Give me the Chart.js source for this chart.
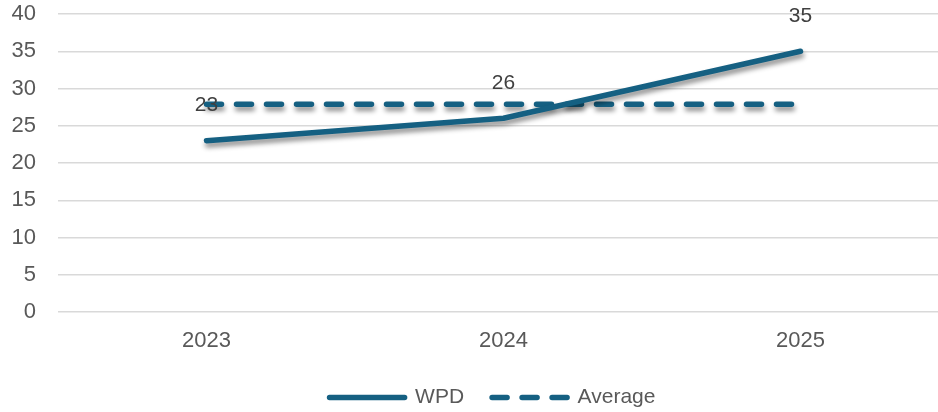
<!DOCTYPE html>
<html><head><meta charset="utf-8">
<script src="https://cdn.jsdelivr.net/npm/chart.js@4.4.1/dist/chart.umd.min.js"></script>
<style>
html,body{margin:0;padding:0;background:#fff;overflow:hidden;}
#wrap{width:980px;height:412px;position:relative;}
</style></head>
<body>
<div id="wrap"><canvas id="c"></canvas></div>
<script>
const categories = ['2023', '2024', '2025'];
const wpdValues = [23, 26, 35];
const averageValues = [27.9, 27.9, 27.9];
const yTicks = [0, 5, 10, 15, 20, 25, 30, 35, 40];

const FONT = "'Liberation Sans', Arial, sans-serif";
const LINE = '#156082';

const shadowPlugin = {
  id: 'shadow',
  beforeDatasetDraw(chart) {
    const ctx = chart.ctx;
    ctx.save();
    ctx.shadowColor = 'rgba(0,0,0,0.45)';
    ctx.shadowBlur = 5;
    ctx.shadowOffsetX = 1;
    ctx.shadowOffsetY = 4;
  },
  afterDatasetDraw(chart) { chart.ctx.restore(); }
};

const legendShift = {
  id: 'legendShift',
  afterLayout(chart) {
    const l = chart.legend;
    l.left += 18; l.right += 18;
    l.top += 6; l.bottom += 6;
  }
};

const labelPlugin = {
  id: 'dlabels',
  afterDatasetsDraw(chart) {
    const ctx = chart.ctx;
    const meta = chart.getDatasetMeta(0);
    ctx.save();
    ctx.font = '21px ' + FONT;
    ctx.fillStyle = '#404040';
    ctx.textAlign = 'center';
    ctx.textBaseline = 'middle';
    meta.data.forEach((pt, i) => {
      ctx.fillText(String(wpdValues[i]), pt.x, pt.y - 35);
    });
    ctx.restore();
  }
};

new Chart(document.getElementById('c'), {
  type: 'line',
  data: {
    labels: categories,
    datasets: [
      {
        label: 'WPD', data: wpdValues, borderColor: LINE, backgroundColor: LINE,
        borderWidth: 5.5, pointRadius: 0, pointStyle: 'line', borderCapStyle: 'round',
        borderJoinStyle: 'round', tension: 0
      },
      {
        label: 'Average', data: averageValues, borderColor: LINE, backgroundColor: LINE,
        borderWidth: 5.5, pointRadius: 0, pointStyle: 'line', borderDash: [15, 15],
        borderCapStyle: 'round', tension: 0
      }
    ]
  },
  options: {
    responsive: true, maintainAspectRatio: false, animation: false,
    layout: { padding: { top: 14, right: 31, bottom: 0, left: 0 } },
    plugins: {
      tooltip: { enabled: false },
      legend: {
        position: 'bottom',
        labels: {
          usePointStyle: true, pointStyleWidth: 75, boxHeight: 21,
          color: '#595959', font: { family: FONT, size: 21 }, padding: 28,
          generateLabels(chart) {
            return chart.data.datasets.map((ds, i) => ({
              text: ds.label,
              fillStyle: ds.borderColor,
              strokeStyle: ds.borderColor,
              fontColor: '#595959',
              lineWidth: 5.5,
              lineDash: ds.borderDash || [],
              lineDashOffset: 0,
              lineCap: 'round',
              pointStyle: 'line',
              hidden: false,
              datasetIndex: i
            }));
          }
        }
      }
    },
    scales: {
      x: {
        offset: true,
        grid: { display: false, drawTicks: false },
        border: { display: false },
        ticks: { color: '#595959', font: { family: FONT, size: 22 }, padding: 16 },
        afterFit(s) { s.height = 412 - 312 - s.chart.legend.height; }
      },
      y: {
        min: 0, max: 40,
        afterBuildTicks(s) { s.ticks = yTicks.map(v => ({ value: v })); },
        grid: { color: '#D9D9D9', lineWidth: 1.5, drawTicks: false },
        border: { display: false },
        ticks: { color: '#595959', font: { family: FONT, size: 22 }, padding: 22 },
        afterFit(s) { s.width = 58; s.paddingTop = 0; s.paddingBottom = 0; }
      }
    }
  },
  plugins: [shadowPlugin, labelPlugin, legendShift]
});
</script>
</body></html>
